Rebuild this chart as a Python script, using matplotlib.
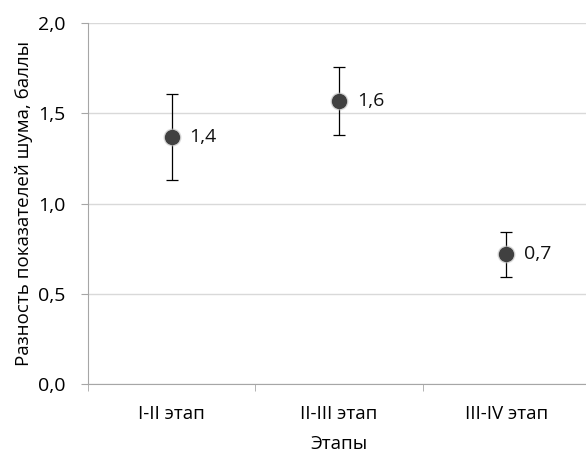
import matplotlib.pyplot as plt
from matplotlib.ticker import FuncFormatter

stages = ["I-II этап", "II-III этап", "III-IV этап"]
means = [1.37, 1.57, 0.72]
errors = [0.24, 0.19, 0.125]
labels = ["1,4", "1,6", "0,7"]

plt.rcParams["font.family"] = ["Open Sans", "DejaVu Sans"]

fig = plt.figure(figsize=(5.86, 4.55), dpi=100)
ax = fig.add_axes([0.150, 0.156, 0.857, 0.793])

x = list(range(len(stages)))
ax.errorbar(x, means, yerr=errors, fmt="none", ecolor="black",
            elinewidth=0.9, capsize=4.5, capthick=0.9, zorder=3)
# soft shadow under markers
ax.plot(x, means, "o", color="#bfbfbf", markersize=12, alpha=0.5,
        linestyle="none", zorder=3.5)
ax.plot(x, means, "o", color="#404040", markersize=10,
        linestyle="none", zorder=4)

for xi, m, lab in zip(x, means, labels):
    ax.annotate(lab, (xi, m), xytext=(13, 0), textcoords="offset points",
                va="center", ha="left", fontsize=14, color="#111111")

ax.set_xlim(-0.5, len(stages) - 0.5)
ax.set_ylim(0, 2.0)
ax.set_yticks([0, 0.5, 1.0, 1.5, 2.0])
ax.yaxis.set_major_formatter(FuncFormatter(lambda v, p: f"{v:.1f}".replace(".", ",")))
ax.set_xticks(x)
ax.set_xticklabels(stages)
ax.set_xticks([-0.5, 0.5, 1.5, 2.5], minor=True)
ax.tick_params(axis="x", which="major", length=0, pad=15, labelsize=13.5)
ax.tick_params(axis="x", which="minor", length=5, color="#a6a6a6")
ax.tick_params(axis="y", length=5, color="#a6a6a6", labelsize=14, pad=11)

ax.grid(axis="y", color="#d9d9d9", linewidth=1)
ax.set_axisbelow(True)
for side in ["top", "right"]:
    ax.spines[side].set_visible(False)
for side in ["left", "bottom"]:
    ax.spines[side].set_color("#a6a6a6")

ax.set_xlabel("Этапы", fontsize=13.5, labelpad=9)
ax.set_ylabel("Разность показателей шума, баллы", fontsize=13.5, labelpad=4)

plt.savefig("out.png", dpi=100)
